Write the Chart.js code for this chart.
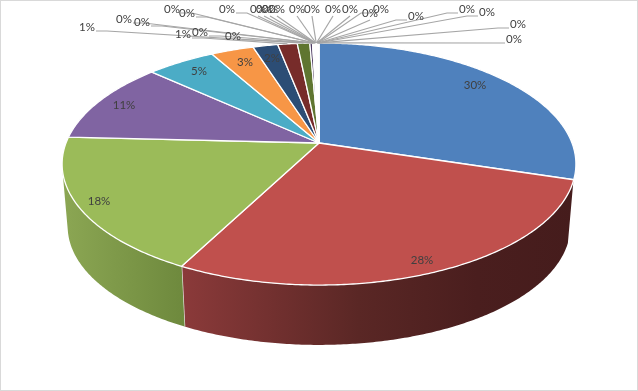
<!DOCTYPE html>
<html>
<head>
<meta charset="utf-8">
<title>Pie</title>
<script src="https://cdn.jsdelivr.net/npm/chart.js@4"></script>
<style>
    html, body { margin: 0; padding: 0; background: #fff; }
    #pie { display: block; outline: 1px solid #d9d9d9; outline-offset: -1px; }
</style>
</head>
<body>
<canvas id="pie" width="638" height="391"></canvas>
<script>
// Values (percent of the whole)
const sliceValues = [29.8, 27.8, 18.2, 11, 5.1, 3.2, 1.85, 1.45, 0.93, 0.2,
    0.03, 0.02, 0.03, 0.02, 0.02, 0.03, 0.02, 0.02, 0.02, 0.03,
    0.02, 0.02, 0.03, 0.02, 0.02, 0.02, 0.03, 0.02, 0.02, 0.02, 0.02];
const sliceNames = sliceValues.map((v, i) => 'Item ' + (i + 1));
const sliceColors = ['#4f81bd', '#c0504d', '#9bbb59', '#8064a2', '#4bacc6', '#f79646',
    '#2c4d75', '#772c2a', '#5f7530', '#4d3b62', '#276a7c', '#b65708',
    '#729aca', '#cd7371', '#afc97a', '#9983b5', '#6fbdd1', '#f9ab6b',
    '#3a679c', '#9e3b38', '#7e9c40', '#664f83', '#358ea6', '#f3740b',
    '#95b3d7', '#d99694', '#c3d69b', '#b2a2c7', '#93cddd', '#fac090', '#dce6f2'];

// Where each label sits, in slice order
const labelSpots = [[475, 85], [422, 260], [99, 201], [124, 105], [199, 71], [245, 62], [272, 58],
    [183, 34], [87, 27], [233, 36], [200, 32], [142, 22], [124, 19], [187, 13], [172, 9],
    [227, 9], [258, 9], [264, 9], [270, 9], [277, 9], [297, 9], [312, 9], [333, 9],
    [350, 9], [370, 13], [381, 9], [416, 16], [467, 9], [487, 12], [518, 24], [514, 39]];
const insideLabels = 7;

// Perspective of the disc: the top face and the bottom face of the pie
const topFace = { cx: 319, cy: 143, a: 253, b: 117.4, k: 0.1736 };
const bottomFace = { cx: 319, cy: 206, a: 247.5, b: 114.8, k: 0.1736 };
const wallFrom = 0.31;
const wallTo = 2.93;

function project(face, angle, ratio) {
    const u = Math.cos(angle) * ratio;
    const v = Math.sin(angle) * ratio;
    const d = 1 - face.k * v;
    return { x: face.cx + face.a * u / d, y: face.cy + face.b * v / d };
}

function traceArc(ctx, face, from, to, first) {
    const steps = Math.max(2, Math.ceil(Math.abs(to - from) / 0.01));
    for (let i = 0; i <= steps; i++) {
        const p = project(face, from + (to - from) * i / steps, 1);
        if (i === 0 && first) ctx.moveTo(p.x, p.y);
        else ctx.lineTo(p.x, p.y);
    }
}

// Slices keep the angles Chart.js worked out, only the painting goes through the perspective
Chart.ArcElement.prototype.draw = function (ctx) {
    ctx.save();
    ctx.beginPath();
    ctx.moveTo(topFace.cx, topFace.cy);
    traceArc(ctx, topFace, this.startAngle, this.endAngle, false);
    ctx.closePath();
    ctx.fillStyle = this.options.backgroundColor;
    ctx.fill();
    ctx.strokeStyle = '#fff';
    ctx.lineWidth = 1.3;
    ctx.lineJoin = 'round';
    ctx.stroke();
    ctx.restore();
};

function wallGradient(ctx, index) {
    let g;
    if (index === 1) {
        g = ctx.createLinearGradient(182, 0, 575, 0);
        g.addColorStop(0, '#8b3a3a');
        g.addColorStop(0.45, '#5a2725');
        g.addColorStop(0.75, '#4a1e1e');
        g.addColorStop(1, '#451c1c');
    } else {
        g = ctx.createLinearGradient(64, 0, 184, 0);
        g.addColorStop(0, '#8ba653');
        g.addColorStop(1, '#6e893d');
    }
    return g;
}

const wallPlugin = {
    id: 'wall',
    beforeDatasetsDraw(chart) {
        const ctx = chart.ctx;
        const arcs = chart.getDatasetMeta(0).data;
        arcs.forEach((arc, i) => {
            const from = Math.max(arc.startAngle, wallFrom);
            const to = Math.min(arc.endAngle, wallTo);
            if (to <= from) return;
            ctx.save();
            ctx.beginPath();
            traceArc(ctx, topFace, from, to, true);
            traceArc(ctx, bottomFace, to, from, false);
            ctx.closePath();
            ctx.fillStyle = wallGradient(ctx, i);
            ctx.fill();
            // white seam where two slices meet
            if (arc.endAngle < wallTo) {
                const a = project(topFace, arc.endAngle, 1);
                const b = project(bottomFace, arc.endAngle, 1);
                ctx.beginPath();
                ctx.moveTo(a.x, a.y);
                ctx.lineTo(b.x, b.y);
                ctx.strokeStyle = '#e8e8e8';
                ctx.lineWidth = 1.3;
                ctx.stroke();
            }
            ctx.restore();
        });
    }
};

const labelPlugin = {
    id: 'pieLabels',
    afterDatasetsDraw(chart) {
        const ctx = chart.ctx;
        const arcs = chart.getDatasetMeta(0).data;
        const total = sliceValues.reduce((a, b) => a + b, 0);
        ctx.save();
        // leader lines first so the text stays on top
        ctx.strokeStyle = '#a6a6a6';
        ctx.lineWidth = 1.2;
        arcs.forEach((arc, i) => {
            if (i < insideLabels) return;
            const spot = labelSpots[i];
            const rim = project(topFace, (arc.startAngle + arc.endAngle) / 2, 1);
            const dx = rim.x - spot[0];
            ctx.beginPath();
            if (Math.abs(dx) > 60) {
                const side = dx > 0 ? 1 : -1;
                ctx.moveTo(spot[0] + side * 9, spot[1] + 4);
                ctx.lineTo(spot[0] + side * 20, spot[1] + 4);
            } else {
                ctx.moveTo(spot[0], spot[1] + 7);
            }
            ctx.lineTo(rim.x, rim.y);
            ctx.stroke();
        });
        ctx.fillStyle = '#404040';
        ctx.font = '11.5px Lato, "Open Sans", sans-serif';
        ctx.textAlign = 'center';
        ctx.textBaseline = 'middle';
        arcs.forEach((arc, i) => {
            const pct = Math.round(sliceValues[i] / total * 100);
            ctx.fillText(pct + '%', labelSpots[i][0], labelSpots[i][1]);
        });
        ctx.restore();
    }
};

const chart = new Chart(document.getElementById('pie').getContext('2d'), {
    type: 'pie',
    data: {
        labels: sliceNames,
        datasets: [{
            data: sliceValues,
            backgroundColor: sliceColors,
            borderWidth: 0
        }]
    },
    options: {
        responsive: false,
        animation: false,
        events: [],
        plugins: {
            legend: { display: false },
            tooltip: { enabled: false }
        }
    },
    plugins: [wallPlugin, labelPlugin]
});
</script>
</body>
</html>
